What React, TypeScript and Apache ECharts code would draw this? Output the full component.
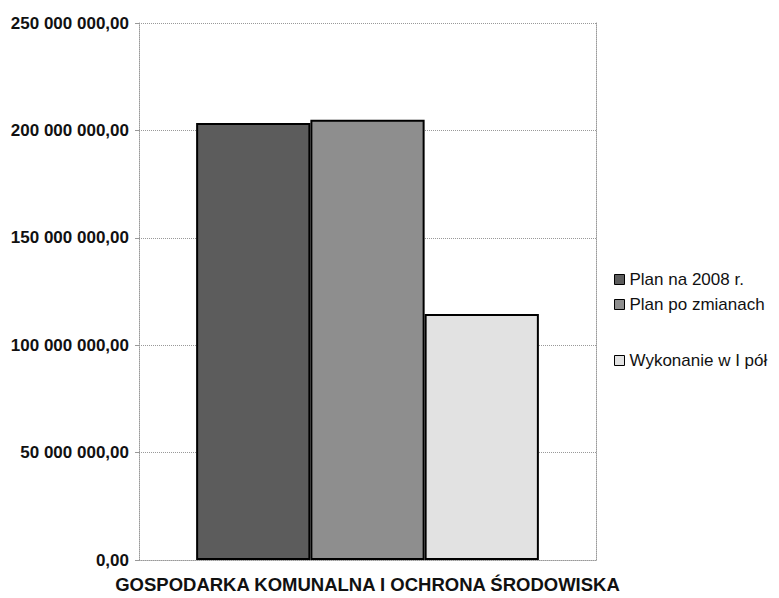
import React, { useEffect, useRef } from "react";
import * as echarts from "echarts";

const categories = ["GOSPODARKA KOMUNALNA I OCHRONA ŚRODOWISKA"];
const seriesNames = ["Plan na 2008 r.", "Plan po zmianach", "Wykonanie w I półroczu"];
const planValues = [203500000];
const changedValues = [205000000];
const doneValues = [114500000];
const seriesColors = ["#5c5c5c", "#8e8e8e", "#e2e2e2"];
const legendTops = [266, 291, 347];

function fmt(v: number): string {
  const s = Math.round(v).toString();
  return s.replace(/\B(?=(\d{3})+(?!\d))/g, " ") + ",00";
}

export default function App() {
  const ref = useRef<HTMLDivElement>(null);
  useEffect(() => {
    document.body.style.margin = "0";
    const chart = echarts.init(ref.current!, null, { renderer: "svg" });
    const values = [planValues, changedValues, doneValues];
    const dotted = { color: "#999", type: "dotted", width: 1 };
    chart.setOption({
      animation: false,
      backgroundColor: "#ffffff",
      grid: { left: 139, right: 183, top: 23, bottom: 38, containLabel: false },
      legend: seriesNames.map((n, i) => ({
        data: [n],
        left: 609,
        top: legendTops[i],
        icon: "rect",
        itemWidth: 10,
        itemHeight: 10,
        itemGap: 4,
        itemStyle: { borderColor: "#000", borderWidth: 1 },
        textStyle: {
          fontFamily: "Liberation Sans, Arial, sans-serif",
          fontSize: 17,
          color: "#111",
          width: 152,
          overflow: "truncate",
          ellipsis: "",
        },
      })),
      xAxis: {
        type: "category",
        data: categories,
        axisLine: { show: true, lineStyle: dotted },
        axisTick: { show: false },
        axisLabel: {
          color: "#111",
          fontWeight: "bold",
          fontSize: 18.5,
          fontFamily: "Liberation Sans, Arial, sans-serif",
          margin: 15,
        },
      },
      yAxis: [
        {
          type: "value",
          min: 0,
          max: 250000000,
          interval: 50000000,
          axisLine: { show: true, lineStyle: dotted },
          axisTick: { show: true, length: 4, lineStyle: { color: "#999" } },
          splitLine: { show: true, lineStyle: dotted },
          axisLabel: {
            formatter: (v: number) => fmt(v),
            color: "#111",
            fontWeight: "bold",
            fontSize: 17,
            fontFamily: "Liberation Sans, Arial, sans-serif",
            margin: 10,
          },
        },
        {
          type: "value",
          position: "right",
          min: 0,
          max: 250000000,
          interval: 50000000,
          axisLine: { show: true, lineStyle: dotted },
          axisTick: { show: false },
          splitLine: { show: false },
          axisLabel: { show: false },
        },
      ],
      series: seriesNames.map((n, i) => ({
        name: n,
        type: "bar",
        yAxisIndex: 0,
        data: values[i],
        barGap: "0%",
        barCategoryGap: "25%",
        itemStyle: { color: seriesColors[i], borderColor: "#000", borderWidth: 2 },
      })),
    });
    return () => chart.dispose();
  }, []);
  return <div ref={ref} style={{ width: 779, height: 598 }} />;
}
